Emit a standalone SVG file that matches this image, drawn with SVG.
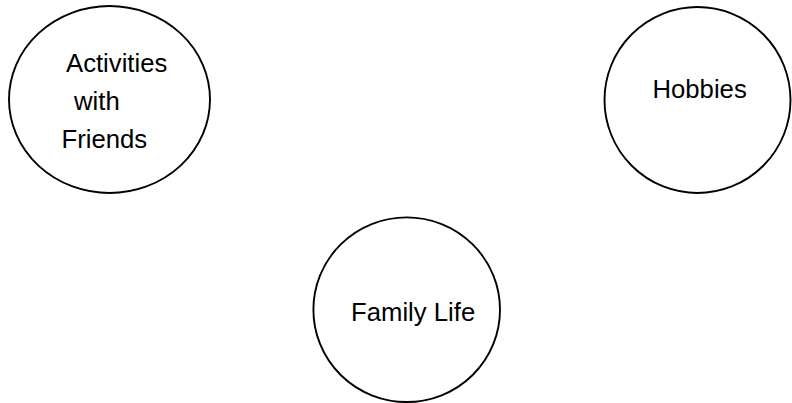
<svg xmlns="http://www.w3.org/2000/svg" width="792" height="403" viewBox="0 0 792 403">
<style>
.node { fill: #ffffff; stroke: #000000; stroke-width: 1.9; }
.lbl { font-family: "Liberation Sans", Arial, sans-serif; font-size: 25.7px; fill: #000000; }
</style>
<rect width="792" height="403" fill="#ffffff"/>
<g id="connectors"></g>
<g id="node-activities">
<ellipse class="node" cx="109.5" cy="99.5" rx="100.5" ry="93.5"/>
<text class="lbl" x="66" y="72">Activities</text>
<text class="lbl" x="74" y="110">with</text>
<text class="lbl" x="61.5" y="148">Friends</text>
</g>
<g id="node-hobbies">
<ellipse class="node" cx="697.5" cy="100" rx="93" ry="93"/>
<text class="lbl" x="652.5" y="98">Hobbies</text>
</g>
<g id="node-family">
<ellipse class="node" cx="406.7" cy="309.7" rx="93.3" ry="92.3"/>
<text class="lbl" x="351" y="320.5">Family Life</text>
</g>
</svg>
